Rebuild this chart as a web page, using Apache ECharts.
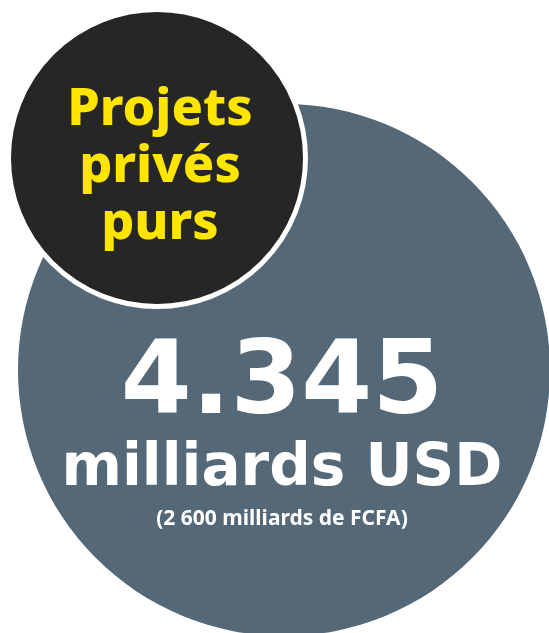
<!DOCTYPE html>
<html>
<head>
<meta charset="utf-8">
<script src="https://cdn.jsdelivr.net/npm/echarts@6/dist/echarts.min.js"></script>
<style>
  html, body { margin: 0; padding: 0; background: #fff; }
  #chart { width: 549px; height: 633px; }
</style>
</head>
<body>
<div id="chart"></div>
<script>
// data
const titleLines = ["Projets", "privés", "purs"]
const amountUSD = ["4.345"]
const unitLabel = ["milliards USD"]
const fcfaLabel = ["(2 600 milliards de FCFA)"]
const circleValues = [1]

const chart = echarts.init(document.getElementById("chart"))

// title lines, one graphic text each
const titleTexts = titleLines.map((line, i) => ({
  type: "text",
  z: 10,
  x: 160,
  y: 110 + i * 57,
  style: {
    text: line,
    fill: "#FFE500",
    font: "800 52px 'Noto Sans'",
    textAlign: "center",
    textVerticalAlign: "middle"
  }
}))

const option = {
  animation: false,
  series: [
    {
      type: "pie",
      z: 1,
      center: [284, 370],
      radius: [0, 266],
      silent: true,
      label: { show: false },
      labelLine: { show: false },
      itemStyle: { color: "#546877" },
      emphasis: { disabled: true },
      data: circleValues.map(v => ({ value: v, name: unitLabel[0] }))
    },
    {
      type: "pie",
      z: 3,
      center: [157, 158],
      radius: [0, 148.5],
      silent: true,
      label: { show: false },
      labelLine: { show: false },
      itemStyle: { color: "#262626", borderColor: "#fff", borderWidth: 5 },
      emphasis: { disabled: true },
      data: circleValues.map(v => ({ value: v, name: titleLines.join(" ") }))
    }
  ],
  graphic: titleTexts.concat([
    {
      type: "text",
      z: 10,
      x: 282,
      y: 386,
      style: {
        text: amountUSD[0],
        fill: "#fff",
        font: "bold 102px 'DejaVu Sans'",
        textAlign: "center",
        textVerticalAlign: "middle"
      }
    },
    {
      type: "text",
      z: 10,
      x: 282,
      y: 470,
      style: {
        text: unitLabel[0],
        fill: "#fff",
        font: "bold 58px 'DejaVu Sans'",
        textAlign: "center",
        textVerticalAlign: "middle"
      }
    },
    {
      type: "text",
      z: 10,
      x: 282,
      y: 519,
      style: {
        text: fcfaLabel[0],
        fill: "#fff",
        font: "700 21px 'Noto Sans'",
        textAlign: "center",
        textVerticalAlign: "middle"
      }
    }
  ])
}

chart.setOption(option)
</script>
</body>
</html>
